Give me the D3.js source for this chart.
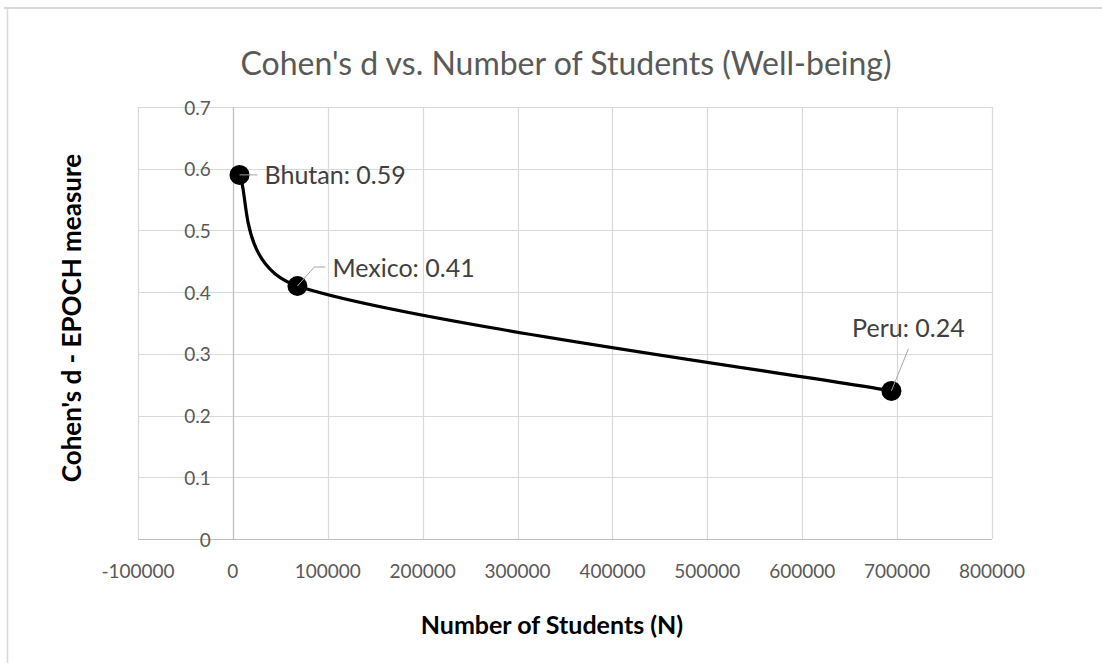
<!DOCTYPE html>
<html>
<head>
<meta charset="utf-8">
<script src="https://cdn.jsdelivr.net/npm/d3@7"></script>
<style>
  html, body { margin: 0; padding: 0; background: #fff; }
  svg { display: block; }
</style>
</head>
<body>
<svg id="chart" width="1102" height="663"></svg>
<script>
const countries = ["Bhutan", "Mexico", "Peru"];
const students = [7000, 68000, 694000];
const cohensD = [0.59, 0.41, 0.24];
const xTicks = [-100000, 0, 100000, 200000, 300000, 400000, 500000, 600000, 700000, 800000];
const yTicks = [0, 0.1, 0.2, 0.3, 0.4, 0.5, 0.6, 0.7];
const titleText = "Cohen's d vs. Number of Students (Well-being)";
const xTitle = "Number of Students (N)";
const yTitle = "Cohen's d - EPOCH measure";

(function () {
const svg = d3.select("#chart");
const font = "Lato, 'Open Sans', sans-serif";
const pLeft = 138, pRight = 992, pTop = 107, pBottom = 539;

const x = d3.scaleLinear().domain([-100000, 800000]).range([pLeft, pRight]);
const y = d3.scaleLinear().domain([0, 0.7]).range([pBottom, pTop]);

// Excel-style smoothing curve: Bezier arms = (P[i+1]-P[i-1])/6, capped at half the segment length
function ExcelSmooth(context) { this._context = context; }
ExcelSmooth.prototype = {
  areaStart() { this._line = 0; },
  areaEnd() { this._line = NaN; },
  lineStart() { this._pts = []; },
  point(px, py) { this._pts.push([+px, +py]); },
  lineEnd() {
    const p = this._pts, c = this._context, n = p.length;
    if (!n) return;
    c.moveTo(p[0][0], p[0][1]);
    const dist = (a, b) => Math.hypot(a[0] - b[0], a[1] - b[1]);
    for (let i = 0; i < n - 1; i++) {
      const p0 = p[Math.max(0, i - 1)], p1 = p[i], p2 = p[i + 1], p3 = p[Math.min(n - 1, i + 2)];
      const seg = dist(p1, p2);
      let d02 = dist(p0, p2), f1 = 1 / 6;
      if (d02 / 6 > seg / 2) f1 = (seg / 2) / d02;
      let d13 = dist(p1, p3), f2 = 1 / 6;
      if (d13 / 6 > seg / 2) f2 = (seg / 2) / d13;
      const c1 = [p1[0] + (p2[0] - p0[0]) * f1, p1[1] + (p2[1] - p0[1]) * f1];
      const c2 = [p2[0] - (p3[0] - p1[0]) * f2, p2[1] - (p3[1] - p1[1]) * f2];
      c.bezierCurveTo(c1[0], c1[1], c2[0], c2[1], p2[0], p2[1]);
    }
  }
};
const excelCurve = ctx => new ExcelSmooth(ctx);

// outer border (top and left only visible)
svg.append("line").attr("x1", 4).attr("x2", 1102).attr("y1", 8).attr("y2", 8)
  .attr("stroke", "#d9d9d9").attr("stroke-width", 2);
svg.append("line").attr("x1", 7.5).attr("x2", 7.5).attr("y1", 8).attr("y2", 663)
  .attr("stroke", "#d9d9d9").attr("stroke-width", 1.5);

// gridlines
const grid = svg.append("g");
grid.selectAll("line.h").data(yTicks).join("line").attr("class", "h")
  .attr("x1", pLeft).attr("x2", pRight)
  .attr("y1", d => Math.round(y(d)) + 0.5).attr("y2", d => Math.round(y(d)) + 0.5)
  .attr("stroke", "#d9d9d9").attr("stroke-width", 1.2);
grid.selectAll("line.v").data(xTicks).join("line").attr("class", "v")
  .attr("y1", pTop).attr("y2", pBottom)
  .attr("x1", d => Math.round(x(d)) + 0.5).attr("x2", d => Math.round(x(d)) + 0.5)
  .attr("stroke", "#d9d9d9").attr("stroke-width", 1.2);

// axes lines
svg.append("line").attr("x1", pLeft).attr("x2", pRight)
  .attr("y1", Math.round(y(0)) + 0.5).attr("y2", Math.round(y(0)) + 0.5)
  .attr("stroke", "#bfbfbf").attr("stroke-width", 1.2);
svg.append("line").attr("y1", pTop).attr("y2", pBottom)
  .attr("x1", Math.round(x(0)) + 0.5).attr("x2", Math.round(x(0)) + 0.5)
  .attr("stroke", "#bfbfbf").attr("stroke-width", 1.2);

// y tick labels (axis crosses at x=0)
svg.append("g").selectAll("text").data(yTicks).join("text")
  .attr("x", x(0) - 22).attr("y", d => y(d) + 7.5)
  .attr("text-anchor", "end")
  .attr("font-family", font).attr("font-size", 19).attr("fill", "#595959")
  .text(d => d3.format("")(d));

// x tick labels
svg.append("g").selectAll("text").data(xTicks).join("text")
  .attr("x", d => x(d)).attr("y", 578)
  .attr("text-anchor", "middle")
  .attr("font-family", font).attr("font-size", 19).attr("fill", "#595959")
  .text(d => d);

// title
svg.append("text").attr("x", 566).attr("y", 75)
  .attr("text-anchor", "middle").attr("font-family", font).attr("font-size", 32)
  .attr("fill", "#595959").text(titleText);

// axis titles
svg.append("text").attr("x", 552).attr("y", 634)
  .attr("text-anchor", "middle").attr("font-family", font).attr("font-size", 25)
  .attr("font-weight", "bold").attr("fill", "#000").text(xTitle);
svg.append("text").attr("transform", "translate(72,318) rotate(-90)")
  .attr("dy", "0.35em").attr("text-anchor", "middle").attr("font-family", font)
  .attr("font-size", 26).attr("font-weight", "bold").attr("fill", "#000").text(yTitle);

// data
const pts = countries.map((c, i) => ({ c, n: students[i], d: cohensD[i] }));

const line = d3.line().x(d => x(d.n)).y(d => y(d.d)).curve(excelCurve);
svg.append("path").datum(pts).attr("d", line)
  .attr("fill", "none").attr("stroke", "#000").attr("stroke-width", 3.2);

svg.append("g").selectAll("circle").data(pts).join("circle")
  .attr("cx", d => x(d.n)).attr("cy", d => y(d.d)).attr("r", 10).attr("fill", "#000");

// label offsets relative to the marker
const labelPos = [
  { dx: 25, dy: 0, anchor: "start", leader: [[0, 0], [18, 0]] },
  { dx: 35, dy: -18, anchor: "start", leader: [[0, 0], [17, -19], [28, -19]] },
  { dx: 17, dy: -63, anchor: "middle", leader: [[0, 0], [17, -42]] }
];

const lab = svg.append("g");
pts.forEach((p, i) => {
  const px = x(p.n), py = y(p.d), L = labelPos[i];
  lab.append("polyline").attr("points", L.leader.map(q => `${px + q[0]},${py + q[1]}`).join(" "))
    .attr("fill", "none").attr("stroke", "#a6a6a6").attr("stroke-width", 1);
  lab.append("text").attr("x", px + L.dx).attr("y", py + L.dy).attr("dy", "0.36em")
    .attr("text-anchor", L.anchor).attr("font-family", font).attr("font-size", 25)
    .attr("fill", "#404040").text(`${p.c}: ${p.d}`);
});
})();
</script>
</body>
</html>
